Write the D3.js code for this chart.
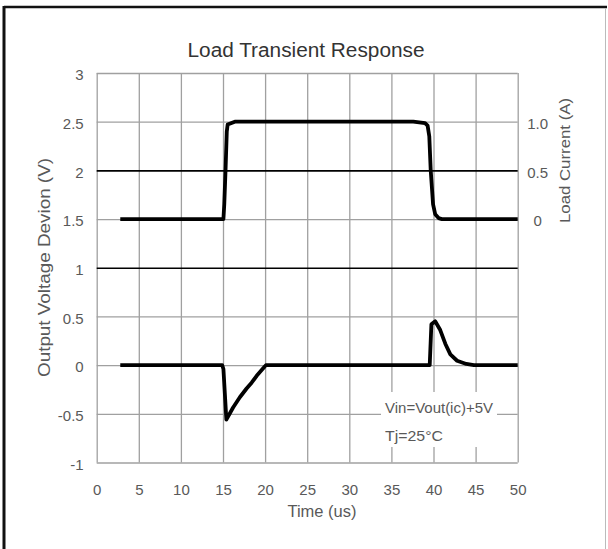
<!DOCTYPE html>
<html>
<head>
<meta charset="utf-8">
<script src="https://cdn.jsdelivr.net/npm/d3@7"></script>
<style>
  html, body { margin: 0; padding: 0; background: #fff; }
  svg { display: block; font-family: "Liberation Sans", Arial, sans-serif; }
</style>
</head>
<body>
<div id="viz"></div>
<script>
// chart values
var timeTicks = [0, 5, 10, 15, 20, 25, 30, 35, 40, 45, 50];
var voltTicks = [-1, -0.5, 0, 0.5, 1, 1.5, 2, 2.5, 3];
var voltTickLabels = ["-1", "-0.5", "0", "0.5", "1", "1.5", "2", "2.5", "3"];
var ampTicks = [0, 0.5, 1];
var ampTickLabels = ["0", "0.5", "1.0"];

// load current step (A)
var loadTime = [2.8, 15.05, 15.15, 15.3, 15.45, 15.55, 16.4, 37.6, 39.0, 39.3, 39.5, 39.67, 39.95, 40.2, 40.6, 41.0, 50];
var loadAmps = [0, 0, 0.15, 0.5, 0.9, 0.97, 1.0, 1.0, 0.985, 0.96, 0.85, 0.5, 0.15, 0.05, 0.01, 0, 0];

// output voltage deviation (V)
var voutTime = [2.8, 14.9, 15.05, 15.4, 16.2, 17.0, 17.8, 18.4, 19.0, 19.8, 20.1, 39.55, 39.75, 40.2, 40.8, 41.4, 42.0, 42.8, 43.9, 44.8, 50];
var voutVals = [0, 0, -0.04, -0.56, -0.435, -0.33, -0.24, -0.18, -0.11, -0.03, 0, 0, 0.42, 0.45, 0.36, 0.22, 0.11, 0.045, 0.012, 0, 0];

var width = 608,
  height = 549,
  plotLeft = 96.7,
  plotRight = 517.7,
  plotTop = 73,
  plotBottom = 462.5,
  labelColor = "#595959",
  gridColor = "#a0a0a0"

var x = d3.scaleLinear().domain([0, 50]).range([plotLeft, plotRight]);
var y = d3.scaleLinear().domain([-1, 3]).range([plotBottom, plotTop]);
// current axis sits on the 1.5 .. 2.5 V rows
var yAmp = d3.scaleLinear().domain([0, 1]).range([y(1.5), y(2.5)]);

var svg = d3.select("#viz").append("svg")
  .attr("width", width)
  .attr("height", height);

// outer frame
svg.append("line").attr("x1", 4).attr("y1", 7).attr("x2", 607).attr("y2", 7)
  .attr("stroke", "#111").attr("stroke-width", 2.5);
svg.append("line").attr("x1", 4).attr("y1", 6).attr("x2", 4).attr("y2", 549)
  .attr("stroke", "#111").attr("stroke-width", 3);
svg.append("line").attr("x1", 605.5).attr("y1", 8).attr("x2", 605.5).attr("y2", 549)
  .attr("stroke", "#bbb").attr("stroke-width", 1);

// vertical grid + time labels
var xAxis = svg.append("g")
  .attr("transform", "translate(0," + plotBottom + ")")
  .call(d3.axisBottom(x).tickValues(timeTicks).tickSize(-(plotBottom - plotTop)).tickPadding(22));

// horizontal grid + voltage labels
var yAxis = svg.append("g")
  .attr("transform", "translate(" + plotLeft + ",0)")
  .call(d3.axisLeft(y).tickValues(voltTicks)
    .tickFormat(function(d, i) { return voltTickLabels[i]; })
    .tickSize(-(plotRight - plotLeft)).tickPadding(13));

// right axis, load current
var ampAxis = svg.append("g")
  .attr("transform", "translate(" + plotRight + ",0)")
  .call(d3.axisRight(yAmp).tickValues(ampTicks)
    .tickFormat(function(d, i) { return ampTickLabels[i]; })
    .tickSize(0).tickPadding(20));

[xAxis, yAxis, ampAxis].forEach(function(g) {
  g.select(".domain").remove();
  g.selectAll("text")
    .attr("fill", labelColor)
    .style("font-size", "15px");
});

xAxis.selectAll("line").attr("stroke", gridColor).attr("stroke-width", 1.3);

yAxis.selectAll("line")
  .attr("stroke", function(d) { return (d == 2 || d == 1) ? "#000" : gridColor; })
  .attr("stroke-width", function(d) { return (d == 2 || d == 1) ? 1.6 : 1.3; });
yAxis.selectAll("text").attr("dy", "0.45em");
ampAxis.selectAll("text").attr("text-anchor", "middle").attr("dy", "0.45em");

// white box behind the test conditions
svg.append("rect")
  .attr("x", 381).attr("y", 392)
  .attr("width", 116).attr("height", 55)
  .attr("fill", "#fff");

svg.append("text")
  .attr("x", 385).attr("y", 413)
  .attr("textLength", 108).attr("lengthAdjust", "spacingAndGlyphs")
  .attr("fill", labelColor).style("font-size", "14px")
  .text("Vin=Vout(ic)+5V");

svg.append("text")
  .attr("x", 385).attr("y", 441)
  .attr("textLength", 58).attr("lengthAdjust", "spacingAndGlyphs")
  .attr("fill", labelColor).style("font-size", "15px")
  .text("Tj=25°C");

// curves
var loadLine = d3.line()
  .x(function(d, i) { return x(loadTime[i]); })
  .y(function(d) { return yAmp(d); });

var voutLine = d3.line()
  .x(function(d, i) { return x(voutTime[i]); })
  .y(function(d) { return y(d); });

svg.append("path")
  .datum(loadAmps)
  .attr("d", loadLine)
  .attr("fill", "none")
  .attr("stroke", "#000")
  .attr("stroke-width", 3.8)
  .attr("stroke-linejoin", "round");

svg.append("path")
  .datum(voutVals)
  .attr("d", voutLine)
  .attr("fill", "none")
  .attr("stroke", "#000")
  .attr("stroke-width", 3.8)
  .attr("stroke-linejoin", "round");

// titles
svg.append("text")
  .attr("x", 306).attr("y", 57)
  .attr("text-anchor", "middle")
  .attr("textLength", 237).attr("lengthAdjust", "spacingAndGlyphs")
  .attr("fill", "#333").style("font-size", "20px")
  .text("Load Transient Response");

svg.append("text")
  .attr("x", 322).attr("y", 517)
  .attr("text-anchor", "middle")
  .attr("textLength", 69).attr("lengthAdjust", "spacingAndGlyphs")
  .attr("fill", labelColor).style("font-size", "16px")
  .text("Time (us)");

svg.append("text")
  .attr("transform", "translate(50,267.5) rotate(-90)")
  .attr("text-anchor", "middle")
  .attr("textLength", 219).attr("lengthAdjust", "spacingAndGlyphs")
  .attr("fill", labelColor).style("font-size", "16px")
  .text("Output Voltage Devion (V)");

svg.append("text")
  .attr("transform", "translate(570,160.5) rotate(-90)")
  .attr("text-anchor", "middle")
  .attr("textLength", 125).attr("lengthAdjust", "spacingAndGlyphs")
  .attr("fill", labelColor).style("font-size", "15px")
  .text("Load Current (A)");
</script>
</body>
</html>
